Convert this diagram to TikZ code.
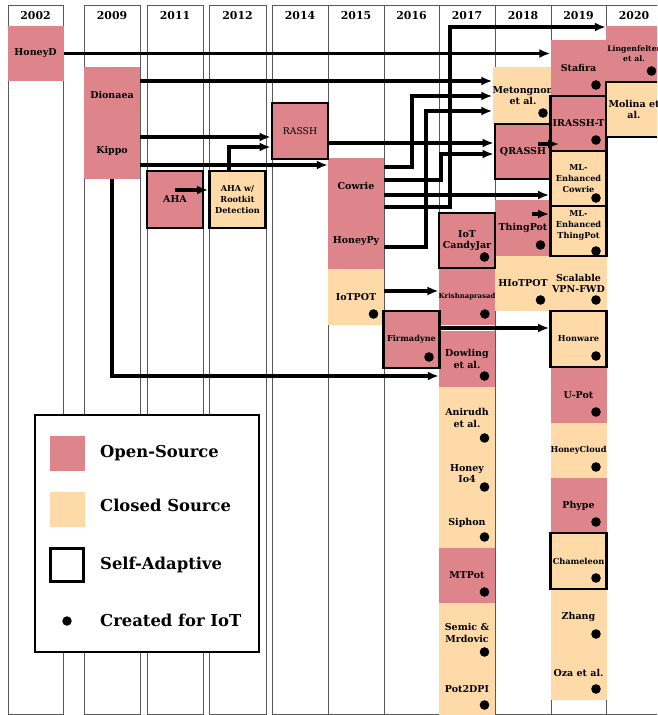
\documentclass[tikz,border=0pt]{standalone}
\usepackage{fontspec}
\setmainfont{DejaVu Serif}
\usetikzlibrary{arrows.meta}
\definecolor{opencol}{RGB}{222,132,139}
\definecolor{closedcol}{RGB}{253,218,167}
\newcommand\potfont{\fontsize{9.5}{11.5}\selectfont\bfseries}
\newcommand\potsmall{\fontsize{8.2}{10.8}\selectfont\bfseries}
\newcommand\pottiny{\fontsize{6.9}{9.5}\selectfont\bfseries}

\begin{document}
\begin{tikzpicture}[x=1pt, y=-1pt,
  yearcol/.style={draw=black!65, line width=0.9pt},
  year/.style={font=\fontsize{10.9}{12}\selectfont\bfseries},
  pot/.style={minimum width=56pt, minimum height=55pt, inner sep=0pt, align=center, font=\potfont},
  open/.style={pot, fill=opencol},
  closed/.style={pot, fill=closedcol},
  adaptive/.style={draw=black, line width=2.8pt},
  iot/.style={path picture={\fill[black] ([xshift=-10.5pt,yshift=#1]path picture bounding box.south east) circle (4.8pt);}},
  iot/.default=11pt,
  flow/.style={line width=3.3pt, -{Latex[length=11pt,width=9pt]}},
  key/.style={anchor=west, inner sep=0pt, font=\fontsize{16.4}{18}\selectfont\bfseries}]
\useasboundingbox (0,0) rectangle (657,715);
\clip (0,0) rectangle (657,715);

\foreach \l/\r/\yr in {8/63/2002,84/140/2009,147/203/2011,209/266/2012,272/328/2014,328/384/2015,384/439/2016,439/495/2017,495/551/2018,551/606/2019,606/662/2020}{
  \draw[yearcol] (\l,5) rectangle (\r,714);
  \node[year] (year\yr) at ({(\l+\r)/2},16) {\yr};
}

\node[open] (honeyd) at (35.5,53.5) {HoneyD};
\node[open, minimum height=56pt] (dionaea) at (112,95) {Dionaea};
\node[open, minimum height=56pt] (kippo) at (112,151) {Kippo};
\node[open] (cowrie) at (356,185.5) {Cowrie};
\node[open, minimum height=56pt] (honeypy) at (356,241) {HoneyPy};
\node[closed, iot, minimum height=56pt] (iotpot) at (356,297) {IoTPOT};
\node[open, iot, font=\pottiny, minimum height=57pt] (krishna) at (467,296.5) {Krishnaprasad};
\node[open, iot, minimum height=56pt] (dowling) at (467,359) {Dowling\\et al.};
\node[closed, iot, minimum height=62pt] (anirudh) at (467,418) {Anirudh\\et al.};
\node[closed, iot, minimum height=49pt] (honeyio) at (467,473.5) {Honey\\Io4};
\node[closed, iot, minimum height=50pt] (siphon) at (467,523) {Siphon};
\node[open, iot] (mtpot) at (467,575.5) {MTPot};
\node[closed, iot, minimum height=60pt] (semic) at (467,633) {Semic \&\\Mrdovic};
\node[closed, iot, minimum height=53pt] (pottwo) at (467,689.5) {Pot2DPI};
\node[closed, iot, minimum height=57pt] (meton) at (523,95.5) {Metongnon\\et al.};
\node[open, iot, minimum height=56pt] (thingpot) at (523,228) {ThingPot};
\node[closed, iot] (hiotpot) at (523,283.5) {HIoTPOT};
\node[open, iot, minimum height=56pt] (stafira) at (578.5,68) {Stafira};
\node[closed, iot] (scalable) at (578.5,283.5) {Scalable\\VPN-FWD};
\node[open, iot, minimum height=56pt] (upot) at (578.5,395) {U-Pot};
\node[closed, iot, font=\potsmall] (honeycloud) at (578.5,450.5) {HoneyCloud};
\node[open, iot] (phype) at (578.5,505.5) {Phype};
\node[closed, iot, minimum height=56pt] (zhang) at (578.5,617) {Zhang};
\node[closed, iot] (oza) at (578.5,672.5) {Oza et al.};
\node[open, iot, font=\fontsize{7.7}{9.8}\selectfont\bfseries, minimum height=56pt] (lingen) at (634,54) {Lingenfelter\\et al.};

\node[open, adaptive, minimum height=57pt] (aha) at (175,199.5) {AHA};
\node[closed, adaptive, font=\potsmall, minimum height=57pt] (ahaw) at (237.5,199.5) {AHA w/\\Rootkit\\Detection};
\node[open, adaptive, font=\fontsize{9.3}{11}\selectfont, minimum height=56pt] (rassh) at (300,131) {RASSH};
\node[open, adaptive, iot, font=\potsmall, minimum height=57pt] (firmadyne) at (411.5,339.5) {Firmadyne};
\node[open, adaptive, iot] (candyjar) at (467,240.5) {IoT\\CandyJar};
\node[open, adaptive] (qrassh) at (523,151.5) {QRASSH};
\node[open, adaptive, iot] (irassh) at (578.5,123.5) {IRASSH-T};
\node[closed, adaptive, iot=8pt, font=\potsmall] (mlcowrie) at (578.5,178.5) {ML-\\Enhanced\\Cowrie};
\node[closed, adaptive, iot=5pt, font=\potsmall, minimum height=50pt] (mlthing) at (578.5,231) {ML-\\Enhanced\\ThingPot\\[2pt]};
\node[closed, adaptive, iot, font=\potsmall, minimum height=56pt] (honware) at (578.5,339) {Honware};
\node[closed, adaptive, iot, font=\potsmall, minimum height=56pt] (chameleon) at (578.5,561) {Chameleon};
\node[closed, adaptive] (molina) at (634,109.5) {Molina et\\al.};

\draw[flow] (honeyd.east) -- (stafira.west |- honeyd.east);
\draw[flow] (dionaea.east |- 0,81) -- (meton.west |- 0,81);
\draw[flow] (kippo.east |- 0,137) -- (rassh.west |- 0,137);
\draw[flow] ([xshift=-8.5pt]ahaw.north) |- (rassh.west |- 0,147);
\draw[flow] (kippo.east |- 0,165) -- (cowrie.west |- 0,165);
\draw[flow] (aha.center |- 0,190) -- (ahaw.west |- 0,190);
\draw[flow] (kippo.south) |- (dowling.west |- 0,376);
\draw[flow] (rassh.east |- 0,143) -- (qrassh.west |- 0,143);
\draw[flow] (cowrie.east |- 0,167) -| (412,96) -- (meton.west |- 0,96);
\draw[flow] (honeypy.east |- 0,247) -| (426,111) -- (meton.west |- 0,111);
\draw[flow] (cowrie.east |- 0,180) -| (441,154) -- (qrassh.west |- 0,154);
\draw[flow] (cowrie.east |- 0,195) -- (mlcowrie.west |- 0,195);
\draw[flow] (cowrie.east |- 0,207) -| (450,27) -- (lingen.west |- 0,27);
\draw[flow] ([xshift=-14pt]qrassh.east |- 0,144) -- ([xshift=10pt]irassh.west |- 0,144);
\draw[flow] ([xshift=-19pt]thingpot.east |- 0,214) -- (mlthing.west |- 0,214);
\draw[flow] (iotpot.east |- 0,291) -- (krishna.west |- 0,291);
\draw[flow] (firmadyne.east |- 0,328) -- (honware.west |- 0,328);

\node[draw, line width=2.8pt, fill=white, minimum width=224pt, minimum height=237pt] (legend) at (147,533.5) {};
\node[fill=opencol, minimum size=35pt, inner sep=0pt] (keyopen) at (67.5,453.5) {};
\node[fill=closedcol, minimum size=35pt, inner sep=0pt] (keyclosed) at (67.5,509.5) {};
\node[draw, line width=2.8pt, minimum size=33pt, inner sep=0pt] (keyadapt) at (67,565) {};
\node[circle, fill, minimum size=9.5pt, inner sep=0pt] (keyiot) at (67,621) {};
\node[key] (keyopentext) at (100,453) {Open-Source};
\node[key] (keyclosedtext) at (100,505) {Closed Source};
\node[key] (keyadapttext) at (100,565) {Self-Adaptive};
\node[key] (keyiottext) at (100,620) {Created for IoT};
\end{tikzpicture}
\end{document}
